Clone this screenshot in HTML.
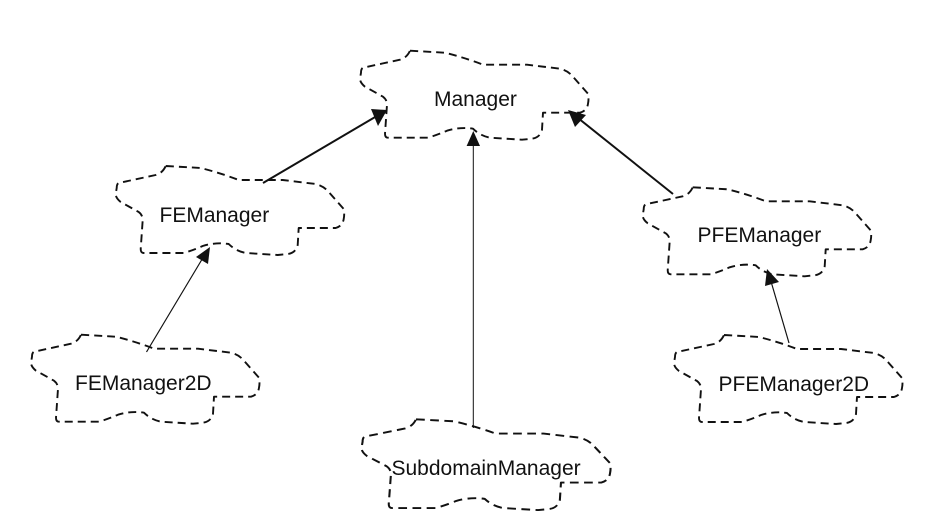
<!DOCTYPE html>
<html><head><meta charset="utf-8"><style>
html,body{margin:0;padding:0;background:#fff}
svg{display:block}
text{font-family:"Liberation Sans",Arial,sans-serif;font-size:21px;fill:#111}
.c{fill:none;stroke:#111;stroke-width:1.9;stroke-dasharray:8 5;stroke-linejoin:round}
</style></head><body>
<svg width="945" height="511" viewBox="0 0 945 511" xmlns="http://www.w3.org/2000/svg">
<defs>
<path id="cloud" class="c" d="M0,0 Q18,1 35,2 Q55,7 73,14 L117,14 L150,18 Q158,20 163,26 L178,43 Q179,48 178,53 Q177,60 170,62 L133,62 L132,79 Q130,87 122,88 L112,89 L80,87 Q70,85 63,78 Q50,76 37,80 Q28,84 18,87 L-22,87 Q-25,87 -25,83 L-23,54 Q-23,49 -27,46 L-45,36 Q-50,32 -50,28 L-49,22 Q-49,18 -47,17 L-10,9 Q-3,7 0,0 Z"/>
</defs>
<use href="#cloud" x="410" y="50.700"/>
<use href="#cloud" x="165.700" y="166"/>
<use href="#cloud" x="81" y="334.700"/>
<use href="#cloud" transform="translate(416 419.300) scale(1.09 1.02)"/>
<use href="#cloud" x="692.700" y="187.300"/>
<use href="#cloud" x="724" y="335"/>

<line x1="263" y1="183" x2="376" y2="116.500" stroke="#111" stroke-width="2"/>
<polygon points="387,110 378,126 371,109" fill="#111"/>
<line x1="473.300" y1="428" x2="473.300" y2="140" stroke="#111" stroke-width="1"/>
<polygon points="473.300,131 480,146 466.600,146" fill="#111"/>
<line x1="673" y1="194" x2="578" y2="118" stroke="#111" stroke-width="2"/>
<polygon points="568,110 586,115 575,127" fill="#111"/>
<line x1="146.500" y1="352" x2="204" y2="256" stroke="#111" stroke-width="1.2"/>
<polygon points="210,247 208,264 196,257" fill="#111"/>
<line x1="789" y1="343" x2="770" y2="278" stroke="#111" stroke-width="1.2"/>
<polygon points="767,269 779,282 765,286" fill="#111"/>

<text x="434" y="106">Manager</text>
<text x="159.500" y="222">FEManager</text>
<text x="75" y="390">FEManager2D</text>
<text x="391.500" y="475">SubdomainManager</text>
<text x="697.500" y="242">PFEManager</text>
<text x="718.500" y="391">PFEManager2D</text>
</svg>
</body></html>
